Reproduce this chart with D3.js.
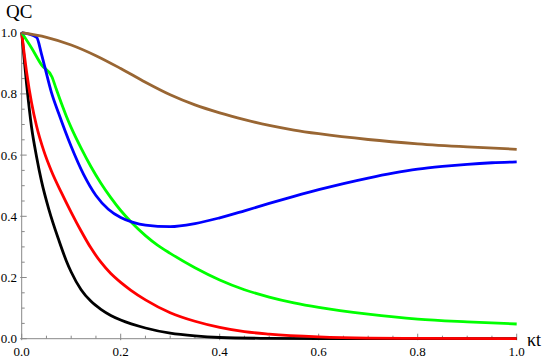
<!DOCTYPE html>
<html><head><meta charset="utf-8">
<script src="https://cdn.jsdelivr.net/npm/d3@7"></script>
<style>body{margin:0;background:#fff}svg{display:block}text{font-family:"Liberation Serif","DejaVu Serif","Times New Roman",Times,serif}</style>
</head><body>
<svg id="c" width="545" height="359"></svg>
<script>
const xTicks = [0, 0.2, 0.4, 0.6, 0.8, 1.0];
const yTicks = [0, 0.2, 0.4, 0.6, 0.8, 1.0];
const tickLabels = ["0.0", "0.2", "0.4", "0.6", "0.8", "1.0"];

const blackT = [0,0.01,0.02,0.03,0.04,0.055,0.075,0.09,0.1,0.12,0.14,0.16,0.18,0.2,0.25,0.3,0.35,0.4,0.5,0.6,1.0];
const blackV = [1.0,0.83,0.69,0.595,0.515,0.422,0.322,0.255,0.218,0.160,0.122,0.096,0.076,0.061,0.035,0.018,0.009,0.004,0.001,0.0,0.0];

const redT = [0,0.01,0.02,0.03,0.045,0.06,0.08,0.1,0.12,0.14,0.16,0.18,0.2,0.22,0.25,0.3,0.35,0.4,0.45,0.5,0.6,0.7,0.8,1.0];
const redV = [1.0,0.87,0.77,0.695,0.612,0.548,0.478,0.413,0.352,0.296,0.250,0.213,0.184,0.159,0.127,0.085,0.057,0.037,0.023,0.015,0.006,0.002,0.001,0.0];

const greenT = [0,0.02,0.04,0.061,0.07,0.08,0.09,0.1,0.12,0.14,0.16,0.18,0.2,0.222,0.25,0.275,0.3,0.35,0.4,0.45,0.5,0.55,0.6,0.7,0.8,0.9,1.0];
const greenV = [1.0,0.95,0.895,0.856,0.815,0.77,0.728,0.69,0.623,0.562,0.508,0.461,0.419,0.38,0.337,0.305,0.279,0.232,0.192,0.160,0.136,0.117,0.102,0.080,0.064,0.055,0.048];

const blueT = [0,0.03,0.04,0.047,0.06,0.075,0.1,0.125,0.15,0.175,0.2,0.225,0.25,0.3,0.35,0.4,0.45,0.5,0.55,0.6,0.65,0.7,0.75,0.8,0.85,0.9,0.95,1.0];
const blueV = [1.0,0.985,0.93,0.886,0.805,0.735,0.628,0.537,0.468,0.423,0.396,0.380,0.371,0.366,0.376,0.395,0.418,0.442,0.465,0.487,0.507,0.525,0.541,0.554,0.563,0.570,0.575,0.578];

const brownT = [0,0.05,0.1,0.15,0.2,0.25,0.3,0.35,0.4,0.45,0.5,0.55,0.6,0.7,0.8,0.9,1.0];
const brownV = [1.0,0.985,0.960,0.925,0.883,0.838,0.797,0.764,0.738,0.716,0.697,0.682,0.670,0.651,0.637,0.627,0.619];

const seriesList = [
  {t: blackT, v: blackV, color: "#000000"},
  {t: redT, v: redV, color: "#ff0000"},
  {t: greenT, v: greenV, color: "#00ff00"},
  {t: blueT, v: blueV, color: "#0000ff"},
  {t: brownT, v: brownV, color: "#996633"}
];

const svg = d3.select("#c");
const x = d3.scaleLinear().domain([0, 1]).range([21.7, 516.7]);
const y = d3.scaleLinear().domain([0, 1]).range([338.7, 32.7]);
const axisColor = "#888888";

const minor = d3.range(0, 1.0001, 0.05).filter(d => Math.abs(d*5 - Math.round(d*5)) > 1e-6);

const gx = svg.append("g");
gx.append("line").attr("x1", x(0)).attr("x2", x(1)).attr("y1", y(0)).attr("y2", y(0))
  .attr("stroke", axisColor).attr("stroke-width", 1);
gx.selectAll("line.maj").data(xTicks).join("line").attr("class","maj")
  .attr("x1", d => x(d)).attr("x2", d => x(d)).attr("y1", y(0)+1.5).attr("y2", y(0)-5)
  .attr("stroke", axisColor).attr("stroke-width", 1);
gx.selectAll("line.min").data(minor).join("line").attr("class","min")
  .attr("x1", d => x(d)).attr("x2", d => x(d)).attr("y1", y(0)).attr("y2", y(0)-3)
  .attr("stroke", axisColor).attr("stroke-width", 1);
gx.selectAll("text").data(xTicks).join("text")
  .attr("x", d => x(d)).attr("y", 356).attr("text-anchor", "middle")
  .attr("font-size", 13).attr("fill", "#000")
  .text((d, i) => tickLabels[i]);

const gy = svg.append("g");
gy.append("line").attr("x1", x(0)).attr("x2", x(0)).attr("y1", y(0)).attr("y2", y(1))
  .attr("stroke", axisColor).attr("stroke-width", 1);
gy.selectAll("line.maj").data(yTicks).join("line").attr("class","maj")
  .attr("x1", x(0)-1.5).attr("x2", x(0)+5).attr("y1", d => y(d)).attr("y2", d => y(d))
  .attr("stroke", axisColor).attr("stroke-width", 1);
gy.selectAll("line.min").data(minor).join("line").attr("class","min")
  .attr("x1", x(0)).attr("x2", x(0)+3).attr("y1", d => y(d)).attr("y2", d => y(d))
  .attr("stroke", axisColor).attr("stroke-width", 1);
gy.selectAll("text").data(yTicks).join("text")
  .attr("x", 17).attr("y", d => y(d)+4.5).attr("text-anchor", "end")
  .attr("font-size", 13).attr("fill", "#000")
  .text((d, i) => tickLabels[i]);

const line = d3.line().x(d => x(d[0])).y(d => y(d[1])).curve(d3.curveMonotoneX);
seriesList.forEach(s => {
  const pts = s.t.map((t, i) => [t, s.v[i]]);
  svg.append("path").attr("d", line(pts)).attr("fill", "none")
    .attr("stroke", s.color).attr("stroke-width", 2.8)
    .attr("stroke-linejoin", "round").attr("stroke-linecap", "butt");
});

svg.append("text").attr("x", 6).attr("y", 18)
  .attr("font-size", 19).attr("fill", "#000").text("QC");
svg.append("text").attr("x", 527).attr("y", 346)
  .attr("font-size", 18).attr("fill", "#000").text("κt");
</script>
</body></html>
